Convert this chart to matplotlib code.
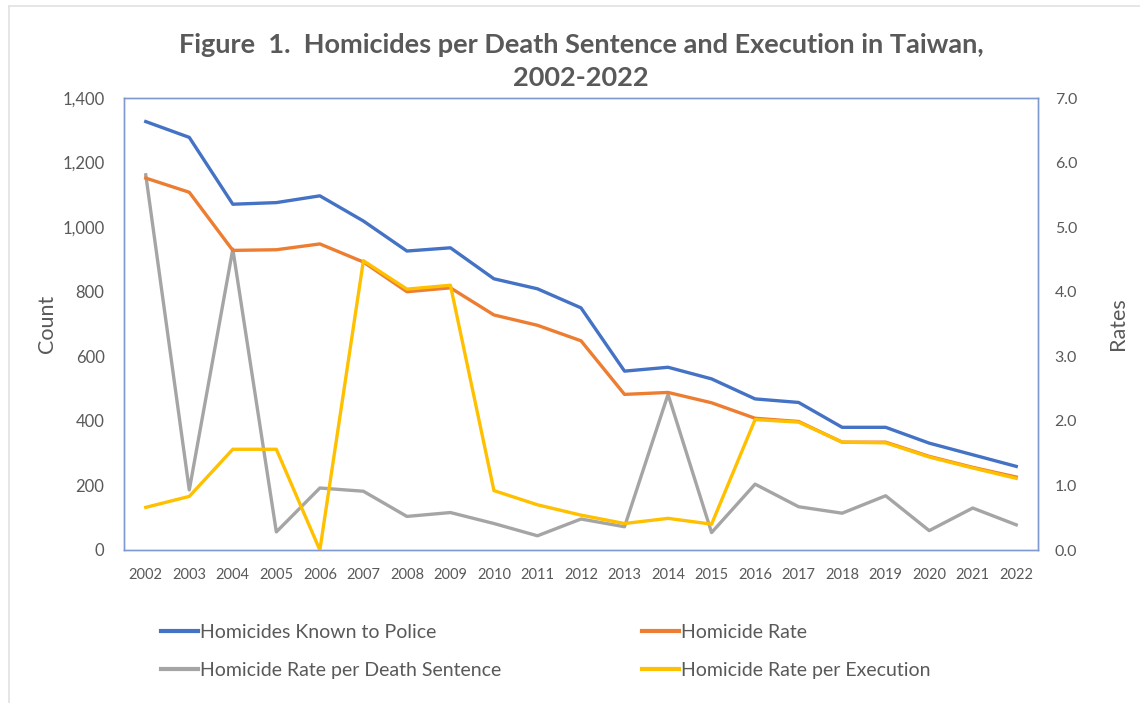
import matplotlib
matplotlib.use("Agg")
import matplotlib.pyplot as plt
from matplotlib.lines import Line2D
from matplotlib.ticker import FuncFormatter

plt.rcParams['font.family'] = ['Lato', 'DejaVu Sans']

years = [str(y) for y in range(2002, 2023)]

homicides_known = [1327, 1278, 1071, 1076, 1097, 1019, 926, 936, 840, 809, 750,
                   554, 566, 530, 468, 457, 380, 380, 331, 295, 259]
homicide_rate = [5.76, 5.54, 4.64, 4.65, 4.74, 4.46, 4.00, 4.06, 3.64, 3.48, 3.24,
                 2.41, 2.44, 2.28, 2.04, 1.99, 1.67, 1.67, 1.45, 1.28, 1.13]
rate_per_death_sentence = [5.81, 0.93, 4.66, 0.28, 0.96, 0.91, 0.52, 0.58, 0.41, 0.22, 0.48,
                           0.36, 2.41, 0.27, 1.02, 0.67, 0.57, 0.84, 0.30, 0.65, 0.39]
rate_per_execution = [0.66, 0.83, 1.56, 1.56, 0.00, 4.48, 4.04, 4.10, 0.92, 0.70, 0.54,
                      0.41, 0.49, 0.40, 2.02, 1.98, 1.67, 1.66, 1.44, 1.27, 1.11]

BLUE = "#4472C4"
ORANGE = "#ED7D31"
GREY = "#A5A5A5"
YELLOW = "#FFC000"
TEXT = "#595959"

W, H = 1140, 703
fig = plt.figure(figsize=(W / 100, H / 100), dpi=100)
fig.patch.set_facecolor("white")

# faint outer frame on the top and left edges
fig.add_artist(Line2D([9 / W, 1], [1 - 6 / H, 1 - 6 / H], color="#e2e2e2", lw=1.2))
fig.add_artist(Line2D([9 / W, 9 / W], [0, 1 - 6 / H], color="#e2e2e2", lw=1.2))

left, right, top, bottom = 124, 1038, 98, 550
ax = fig.add_axes([left / W, 1 - bottom / H, (right - left) / W, (bottom - top) / H])
ax2 = ax.twinx()

x = list(range(len(years)))
lw = 2.4
ax.plot(x, homicides_known, color=BLUE, lw=lw, solid_joinstyle="round", zorder=5)
ax2.plot(x, rate_per_death_sentence, color=GREY, lw=lw, solid_joinstyle="round", zorder=2)
ax2.plot(x, homicide_rate, color=ORANGE, lw=lw, solid_joinstyle="round", zorder=3)
ax2.plot(x, rate_per_execution, color=YELLOW, lw=lw, solid_joinstyle="round", zorder=4)

ax.set_xlim(-0.5, len(years) - 0.5)
ax.set_ylim(0, 1400)
ax2.set_ylim(0, 7)
ax.set_yticks(range(0, 1401, 200))
ax2.set_yticks([i * 1.0 for i in range(8)])
ax.yaxis.set_major_formatter(FuncFormatter(lambda v, p: f"{int(v):,}"))
ax2.yaxis.set_major_formatter(FuncFormatter(lambda v, p: f"{v:.1f}"))
ax.set_xticks(x)
ax.set_xticklabels(years)

for a in (ax, ax2):
    for s in a.spines.values():
        s.set_color("#7F9AD0")
        s.set_linewidth(1.0)
    a.tick_params(length=0, colors=TEXT)

ax.tick_params(axis="x", labelsize=10.5, pad=13)
ax.tick_params(axis="y", labelsize=12, pad=14)
ax2.tick_params(axis="y", labelsize=11.5, pad=12)

ax.set_ylabel("Count", fontsize=15.5, color=TEXT, labelpad=4)
ax2.set_ylabel("Rates", fontsize=15.5, color=TEXT, labelpad=22)

fig.text((left + right) / 2 / W, 1 - 45 / H,
         "Figure  1.  Homicides per Death Sentence and Execution in Taiwan,",
         ha="center", va="center", fontsize=19.5, fontweight="bold", color=TEXT)
fig.text((left + right) / 2 / W, 1 - 78 / H, "2002-2022",
         ha="center", va="center", fontsize=19.5, fontweight="bold", color=TEXT)

handles = [Line2D([], [], color=BLUE, lw=3),
           Line2D([], [], color=GREY, lw=3),
           Line2D([], [], color=ORANGE, lw=3),
           Line2D([], [], color=YELLOW, lw=3)]
labels = ["Homicides Known to Police", "Homicide Rate per Death Sentence",
          "Homicide Rate", "Homicide Rate per Execution"]
leg = fig.legend(handles, labels, ncol=2, loc="upper left",
                 bbox_to_anchor=(151 / W, 1 - 614 / H), frameon=False,
                 fontsize=14, handlelength=1.9, handletextpad=0.1,
                 columnspacing=7.25, labelspacing=1.1, borderpad=0)
for t in leg.get_texts():
    t.set_color(TEXT)

fig.savefig("out.png", dpi=100)
